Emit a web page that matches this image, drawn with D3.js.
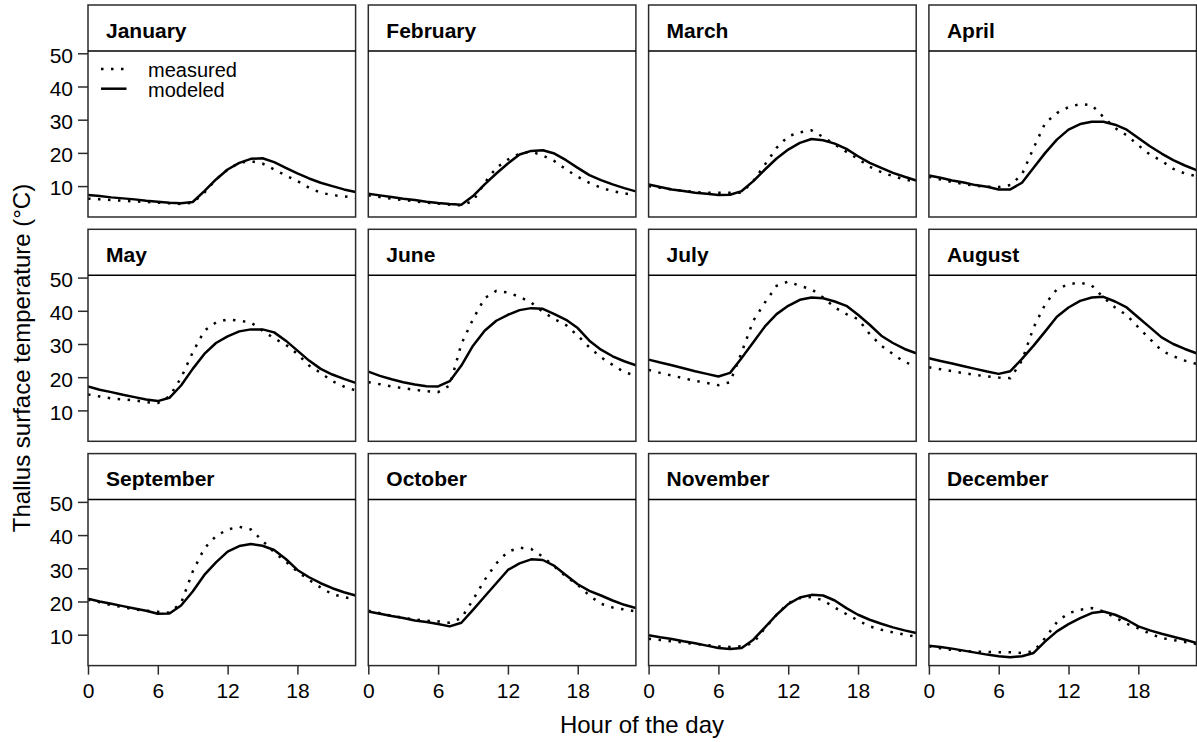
<!DOCTYPE html>
<html><head><meta charset="utf-8">
<script src="https://cdn.jsdelivr.net/npm/d3@7"></script>
<style>
body{margin:0;background:#fff}
svg{display:block;font-family:"Liberation Sans",Arial,Helvetica,sans-serif}
</style>
</head><body>
<svg id="chart" width="1197" height="742"></svg>
<script>
const months = ["January","February","March","April","May","June","July","August","September","October","November","December"];
const hours = [0,1,2,3,4,5,6,7,8,9,10,11,12,13,14,15,16,17,18,19,20,21,22,23];
const xTicks = [0,6,12,18];
const yTicks = [10,20,30,40,50];
const seriesNames = ["measured","modeled"];

const measured = [
  [6.2,6.0,5.8,5.6,5.4,5.2,5.0,4.8,4.6,5.0,8.0,12.0,15.0,17.0,17.5,16.8,15.0,13.2,11.5,9.5,8.0,7.3,6.9,6.5],
  [7.2,6.7,6.2,5.8,5.4,5.0,4.7,4.4,4.2,5.5,11.0,15.5,18.0,19.8,20.4,19.2,17.5,15.0,12.8,11.0,9.5,8.5,7.8,7.2],
  [10.0,9.5,9.0,8.6,8.2,8.0,8.0,8.0,8.0,11.5,16.5,21.5,25.0,26.2,26.8,24.8,22.5,20.3,18.2,15.8,14.2,13.0,12.0,11.3],
  [12.8,12.0,11.2,10.6,10.1,9.8,9.7,10.3,13.5,21.5,29.0,32.0,33.8,34.7,34.4,30.8,27.5,25.3,22.3,19.5,17.6,15.2,13.8,13.0],
  [14.8,14.2,13.6,13.3,13.0,12.5,12.2,14.2,19.8,27.5,34.0,36.5,37.4,37.0,36.5,34.0,31.7,29.8,27.0,23.5,21.3,18.8,17.2,16.0],
  [18.5,17.9,17.2,16.7,16.2,15.8,15.5,17.5,30.0,37.5,43.8,46.0,45.5,44.2,42.5,39.7,37.5,35.7,32.5,29.0,26.0,23.7,21.5,20.5],
  [22.2,21.3,20.5,19.7,18.9,18.3,17.6,18.5,27.5,37.0,42.5,47.5,48.8,47.5,46.5,44.0,41.0,39.0,37.5,33.0,29.5,27.0,24.5,23.5],
  [23.0,22.4,21.8,21.2,20.7,20.2,19.9,19.7,25.0,35.0,42.0,46.5,48.0,48.5,47.6,44.0,41.0,38.7,35.0,31.5,28.0,26.3,25.0,24.0],
  [20.5,19.8,18.9,18.3,17.6,17.2,16.9,16.6,19.5,29.0,36.0,39.7,41.7,42.5,41.7,38.3,34.8,32.0,29.0,26.5,24.2,22.2,21.3,20.7],
  [17.2,16.5,15.7,15.1,14.6,14.2,14.0,13.6,15.0,20.5,26.5,31.5,35.0,36.2,35.8,33.5,30.5,27.5,25.0,21.8,19.3,18.2,17.6,17.0],
  [8.8,8.4,8.0,7.6,7.2,6.9,6.5,6.3,6.5,7.5,12.0,16.0,19.5,21.0,21.4,20.3,18.2,16.2,14.3,12.5,11.5,10.7,10.0,9.4],
  [6.5,5.9,5.4,5.1,4.9,4.8,4.7,4.7,4.5,5.0,9.0,13.8,16.5,17.5,18.0,17.0,15.2,13.3,11.9,10.3,9.0,8.4,7.8,7.2]
];

const modeled = [
  [7.3,7.0,6.6,6.3,6.0,5.6,5.3,5.0,4.8,5.2,8.5,12.0,15.0,17.0,18.2,18.4,17.2,15.5,13.8,12.3,11.0,10.0,9.0,8.2],
  [7.7,7.2,6.7,6.2,5.8,5.3,4.9,4.6,4.4,7.0,10.5,13.8,16.8,19.5,20.6,20.8,19.8,17.8,15.5,13.3,11.8,10.5,9.4,8.4],
  [10.5,9.7,9.0,8.5,8.0,7.7,7.3,7.4,8.5,11.5,15.0,18.3,21.0,23.0,24.2,23.8,22.8,21.2,19.0,17.0,15.5,14.0,12.8,11.7],
  [13.2,12.5,11.7,11.1,10.3,9.8,9.0,9.0,11.0,15.5,20.0,24.0,27.0,28.7,29.4,29.4,28.5,27.0,24.5,22.0,19.8,17.8,16.2,14.8],
  [17.2,16.2,15.5,14.7,14.0,13.3,12.8,13.8,17.5,22.5,27.0,30.3,32.3,33.8,34.4,34.4,33.5,31.0,28.0,25.0,22.5,20.8,19.5,18.3],
  [21.7,20.4,19.4,18.5,17.8,17.3,17.2,18.8,23.5,29.5,34.0,37.0,38.8,40.2,40.8,40.6,39.0,37.3,34.8,31.0,28.3,26.3,24.8,23.6],
  [25.3,24.4,23.6,22.7,21.8,21.0,20.2,21.3,25.8,30.5,35.3,39.0,41.5,43.3,44.0,43.8,42.8,41.5,38.8,35.8,32.5,30.3,28.5,27.2],
  [25.7,24.9,24.1,23.3,22.5,21.7,21.0,21.8,25.5,29.5,33.8,38.2,41.0,43.0,44.0,44.2,42.8,41.0,38.0,35.0,32.0,30.0,28.5,27.2],
  [20.8,20.0,19.3,18.6,17.9,17.2,16.3,16.4,18.8,23.0,28.0,31.8,35.0,36.7,37.3,36.8,35.5,32.8,29.5,27.3,25.5,24.0,22.8,21.8],
  [17.0,16.3,15.6,15.0,14.3,13.8,13.2,12.5,13.6,17.5,21.5,25.5,29.5,31.5,32.7,32.5,30.7,27.9,25.2,23.2,21.8,20.3,19.0,18.0],
  [9.8,9.2,8.7,8.0,7.4,6.7,6.0,5.7,6.0,8.5,12.2,16.0,19.2,21.2,22.0,21.8,20.3,18.0,16.0,14.5,13.3,12.2,11.3,10.5],
  [6.7,6.3,5.8,5.2,4.6,4.0,3.5,3.2,3.5,4.5,8.0,11.0,13.2,15.0,16.5,17.0,16.0,14.5,12.5,11.3,10.3,9.4,8.5,7.5]
];

const svg = d3.select("#chart");
const colLeft = 88, colStep = 280.3, panelW = 267.6;
const rowTop = 5, rowStep = 224.3, stripH = 46, plotH = 166;
const nCols = 4, nRows = 3;
const boxColor = "#2b2b2b";
const dotted = "2.5,7.5";

const x = d3.scaleLinear().domain([0, 23]).range([0, panelW]);
const y = d3.scaleLinear().domain([0.69, 50.69]).range([plotH, 0]);

const line = d3.line().x((d, j) => x(hours[j])).y(d => y(d));

svg.append("defs").append("clipPath").attr("id", "clip")
  .append("rect").attr("x", 0).attr("y", 0).attr("width", panelW).attr("height", plotH);

months.forEach((m, i) => {
  const col = i % nCols, row = Math.floor(i / nCols);
  const g = svg.append("g").attr("transform", `translate(${colLeft + col * colStep},${rowTop + row * rowStep})`);

  // strip
  g.append("text").attr("x", 18).attr("y", 32.5)
    .attr("font-size", 21).attr("font-weight", "bold").attr("fill", "#000").text(m);

  const p = g.append("g").attr("transform", `translate(0,${stripH})`);
  const lines = p.append("g").attr("clip-path", "url(#clip)");
  lines.append("path").datum(measured[i]).attr("d", line)
    .attr("fill", "none").attr("stroke", "#000").attr("stroke-width", 2.5)
    .attr("stroke-dasharray", dotted);
  lines.append("path").datum(modeled[i]).attr("d", line)
    .attr("fill", "none").attr("stroke", "#000").attr("stroke-width", 2.5)
    .attr("stroke-linejoin", "round");

  // boxes
  g.append("rect").attr("x", 0).attr("y", 0).attr("width", panelW).attr("height", stripH + plotH)
    .attr("fill", "none").attr("stroke", boxColor).attr("stroke-width", 1.5);
  g.append("line").attr("x1", 0).attr("x2", panelW).attr("y1", stripH).attr("y2", stripH)
    .attr("stroke", "#000").attr("stroke-width", 1.5);

  if (col === 0) {
    const ax = p.append("g").call(d3.axisLeft(y).tickValues(yTicks).tickSize(10).tickPadding(5));
    ax.select(".domain").remove();
    ax.selectAll("line").attr("stroke", boxColor).attr("stroke-width", 1.5);
    ax.selectAll("text").attr("font-size", 21).attr("font-family", null).attr("dy", "0.42em").attr("fill", "#000");
  }
  if (row === nRows - 1) {
    const ax = p.append("g").attr("transform", `translate(0,${plotH})`)
      .call(d3.axisBottom(x).tickValues(xTicks).tickSize(9).tickPadding(8).tickFormat(d3.format("d")));
    ax.select(".domain").remove();
    ax.selectAll("line").attr("stroke", boxColor).attr("stroke-width", 1.5);
    ax.selectAll("text").attr("font-size", 21).attr("font-family", null).attr("fill", "#000");
  }

  if (i === 0) {
    const lg = p.append("g");
    const items = [{name: seriesNames[0], dash: dotted, ly: 18, ty: 26},
                   {name: seriesNames[1], dash: null, ly: 37.7, ty: 46}];
    items.forEach(it => {
      lg.append("line").attr("x1", 13).attr("x2", 38.5).attr("y1", it.ly).attr("y2", it.ly)
        .attr("stroke", "#000").attr("stroke-width", 2.5)
        .attr("stroke-dasharray", it.dash);
      lg.append("text").attr("x", 60).attr("y", it.ty).attr("font-size", 20).attr("fill", "#000").text(it.name);
    });
  }
});

// axis titles
svg.append("text").attr("x", 642).attr("y", 733).attr("text-anchor", "middle")
  .attr("font-size", 24).attr("fill", "#000").text("Hour of the day");
svg.append("text").attr("transform", "translate(29.5,358) rotate(-90)").attr("text-anchor", "middle")
  .attr("font-size", 24).attr("fill", "#000").text("Thallus surface temperature (°C)");
</script>
</body></html>
